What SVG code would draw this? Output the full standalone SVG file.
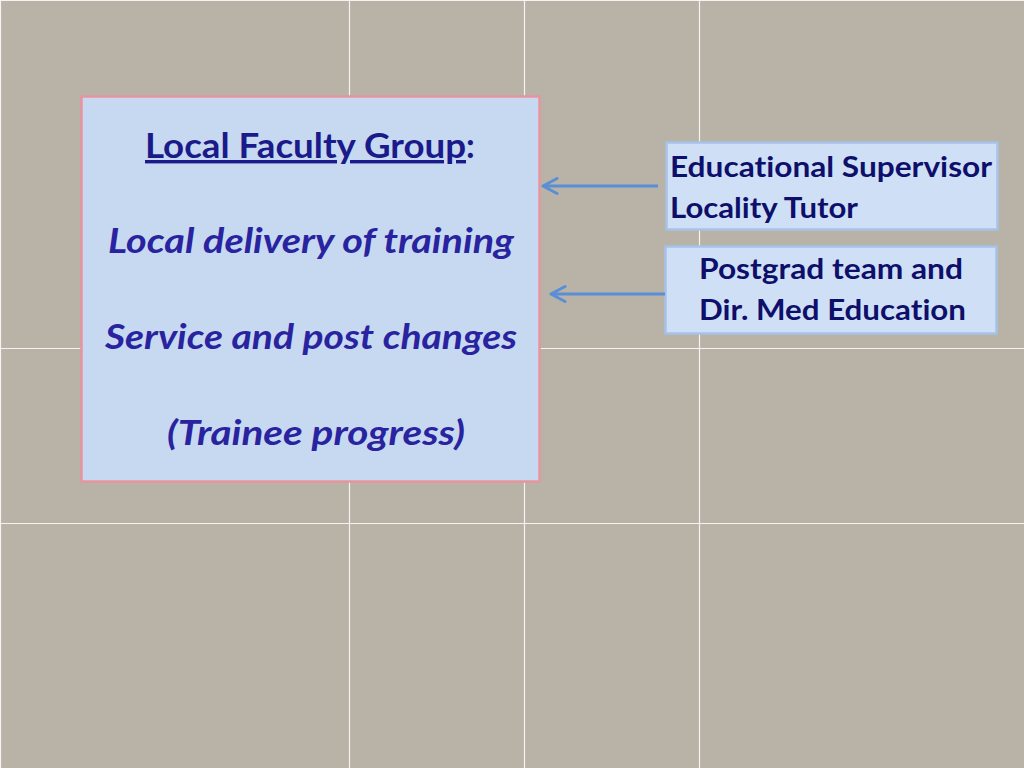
<svg xmlns="http://www.w3.org/2000/svg" width="1024" height="768" viewBox="0 0 1024 768">
<defs>
<style>
text{font-variant-ligatures:none}
.grid{stroke:#ffffff;stroke-width:1.2;opacity:0.85}
.main{fill:#c6d9f1;stroke:#e8949f;stroke-width:2.5}
.side{fill:#cfe0f6;stroke:#a6c2e8;stroke-width:2.5}
.t{font-family:Lato,"Open Sans",sans-serif;font-weight:bold}
.ti{font-family:Lato,"Open Sans",sans-serif;font-weight:bold;font-style:italic;font-size:34px;fill:#2a23a0}
.s{font-family:Lato,"Open Sans",sans-serif;font-weight:bold;font-size:29px;fill:#0e0f6a}
.conn{stroke:#5a8fd6;stroke-width:3;fill:none}
</style>
<marker id="ah" viewBox="0 0 18 18" refX="16" refY="9" markerWidth="18" markerHeight="18" markerUnits="userSpaceOnUse" orient="auto">
<path d="M2,1.5 L16,9 L2,16.5" fill="none" stroke="#5a8fd6" stroke-width="3" stroke-linecap="round" stroke-linejoin="round"/>
</marker>
</defs>
<rect width="1024" height="768" fill="#b9b3a7"/>
<g id="grid">
<line class="grid" x1="349.5" y1="0" x2="349.5" y2="768"/>
<line class="grid" x1="524.5" y1="0" x2="524.5" y2="768"/>
<line class="grid" x1="699.5" y1="0" x2="699.5" y2="768"/>
<line class="grid" x1="0" y1="348.5" x2="1024" y2="348.5"/>
<line class="grid" x1="0" y1="523.5" x2="1024" y2="523.5"/>
<line class="grid" x1="0" y1="0.5" x2="1024" y2="0.5"/>
<line class="grid" x1="0.5" y1="0" x2="0.5" y2="768"/>
</g>
<g id="local-faculty-group">
<rect class="main" x="81.5" y="96.5" width="458" height="385"/>
<text class="t" x="145" y="158" font-size="34" fill="#1b1a8a"><tspan text-decoration="underline" textLength="321" lengthAdjust="spacingAndGlyphs">Local Faculty Group</tspan><tspan>:</tspan></text>
<text class="ti" x="108" y="253" textLength="406" lengthAdjust="spacingAndGlyphs">Local delivery of training</text>
<text class="ti" x="105" y="349" textLength="412" lengthAdjust="spacingAndGlyphs">Service and post changes</text>
<text class="ti" x="167" y="445" fill="#3a2fc9" textLength="298" lengthAdjust="spacingAndGlyphs">(Trainee progress)</text>
</g>
<g id="educational-supervisor">
<rect class="side" x="666.5" y="142.5" width="331" height="87"/>
<text class="s" x="670" y="177" textLength="322" lengthAdjust="spacingAndGlyphs">Educational Supervisor</text>
<text class="s" x="670" y="218" textLength="188" lengthAdjust="spacingAndGlyphs">Locality Tutor</text>
</g>
<g id="postgrad-team">
<rect class="side" x="665.5" y="246.5" width="331" height="87"/>
<text class="s" x="699" y="279" textLength="264" lengthAdjust="spacingAndGlyphs">Postgrad team and</text>
<text class="s" x="699" y="320" textLength="267" lengthAdjust="spacingAndGlyphs">Dir. Med Education</text>
</g>
<g id="connectors">
<line class="conn" x1="658" y1="186" x2="543" y2="186" marker-end="url(#ah)"/>
<line class="conn" x1="665" y1="294" x2="551" y2="294" marker-end="url(#ah)"/>
</g>
</svg>
